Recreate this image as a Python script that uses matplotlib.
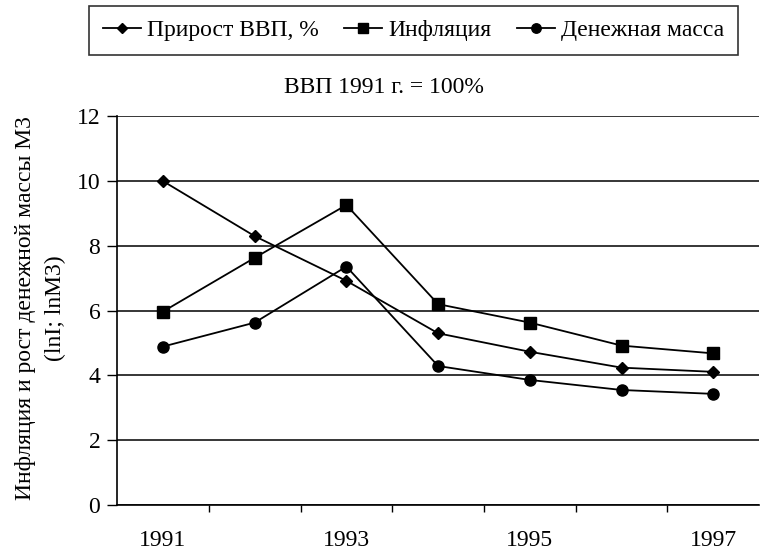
import matplotlib
matplotlib.use("Agg")
import matplotlib.pyplot as plt

plt.rcParams["font.family"] = ["Liberation Serif", "DejaVu Serif"]

years = ["1991", "1992", "1993", "1994", "1995", "1996", "1997"]
gdp = [10.0, 8.3, 6.92, 5.3, 4.73, 4.24, 4.11]
inflation = [5.97, 7.63, 9.26, 6.2, 5.63, 4.92, 4.68]
money = [4.89, 5.63, 7.36, 4.29, 3.86, 3.55, 3.43]
yticks = [0, 2, 4, 6, 8, 10, 12]

fs = 17
x = list(range(len(years)))

fig = plt.figure(figsize=(7.6, 5.51), dpi=100)
ax = fig.add_axes([0.154, 0.0835, 0.845, 0.7055])

ax.plot(x, gdp, color="black", lw=1.3, marker="D", ms=6, label="Прирост ВВП, %")
ax.plot(x, inflation, color="black", lw=1.3, marker="s", ms=8, label="Инфляция")
ax.plot(x, money, color="black", lw=1.3, marker="o", ms=8, label="Денежная масса")

ax.set_xlim(-0.5, len(years) - 0.5)
ax.set_ylim(0, 12)
ax.set_yticks(yticks)
ax.set_yticklabels([str(v) for v in yticks], fontsize=fs)
ax.yaxis.grid(True, color="black", lw=1.1)
ax.set_axisbelow(True)

# category axis: ticks between years, labels every second year
ax.set_xticks(x[::2])
ax.set_xticklabels(years[::2], fontsize=fs)
ax.tick_params(axis="x", which="major", length=0, pad=18)
ax.set_xticks([i + 0.5 for i in x[:-1]], minor=True)
ax.tick_params(axis="x", which="minor", length=5, width=1, direction="out")
ax.tick_params(axis="y", length=7, width=1, direction="out", pad=5)

for s in ["top", "right"]:
    ax.spines[s].set_visible(False)
for s in ["left", "bottom"]:
    ax.spines[s].set_linewidth(1.2)

fig.text(26 / 760, 1 - 308 / 551, "Инфляция и рост денежной массы М3",
         rotation=90, fontsize=fs, ha="center", va="center")
fig.text(55 / 760, 1 - 308 / 551, "(lnI; lnM3)",
         rotation=90, fontsize=fs, ha="center", va="center")

leg = fig.legend(loc="upper center", bbox_to_anchor=(0.544, 0.99), ncol=3,
                 fontsize=fs, frameon=True, fancybox=False, handlelength=1.6,
                 handletextpad=0.25, columnspacing=1.1, borderpad=0.6,
                 borderaxespad=0.0, markerscale=0.85)
leg.get_frame().set_edgecolor("black")
leg.get_frame().set_linewidth(1.2)

fig.text(384 / 760, 1 - 88 / 551, "ВВП 1991 г. = 100%", fontsize=fs,
         ha="center", va="center")

fig.savefig("out.png", dpi=100)
